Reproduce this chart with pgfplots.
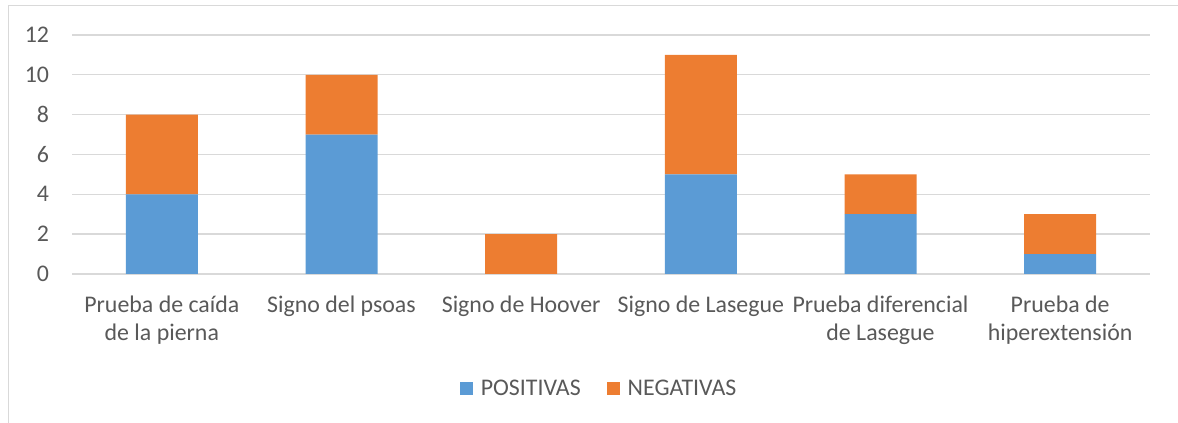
\documentclass[border=0pt]{standalone}
\usepackage{pgfplots}
\pgfplotsset{compat=1.18}
\usepackage{fontspec}
\setmainfont{Carlito}
\definecolor{cblue}{HTML}{5B9BD5}
\definecolor{corange}{HTML}{ED7D31}
\definecolor{cgrid}{HTML}{D9D9D9}
\definecolor{ctext}{HTML}{595959}
\begin{document}
\begin{tikzpicture}
\useasboundingbox (0,0) rectangle (883.5pt,317.25pt);
\draw[cgrid, line width=1pt] (6.2pt,0) -- (6.2pt,313pt) -- (883.5pt,313pt);
\begin{axis}[
  at={(54pt,111.75pt)}, anchor=south west,
  scale only axis, width=808.5pt, height=179.25pt,
  ybar stacked, bar width=54pt,
  xmin=-0.5, xmax=5.5, ymin=0, ymax=12,
  ytick={0,2,...,12},
  xtick=data,
  xticklabels={{Prueba de caída\\de la pierna},{Signo del psoas},{Signo de Hoover},{Signo de Lasegue},{Prueba diferencial\\de Lasegue},{Prueba de\\hiperextensión}},
  axis line style={draw=none},
  major tick length=0pt,
  ymajorgrids, grid style={cgrid, line width=1pt},
  /pgf/number format/assume math mode=true,
  tick label style={font=\fontsize{17.9}{21.3}\selectfont, text=ctext},
  yticklabel style={anchor=east, inner sep=0pt, xshift=-17pt},
  xticklabel style={anchor=north, align=center, inner sep=0pt, yshift=-16pt},
  legend columns=2,
  legend style={at={(0.488,-0.48)}, anchor=center, draw=none, fill=none,
    font=\fontsize{17.9}{20}\selectfont, text=ctext,
    /tikz/every even column/.append style={column sep=19.5pt},
    nodes={inner sep=0pt, anchor=west}},
  legend image code/.code={\fill[#1, draw=none] (0pt,-4.875pt) rectangle (9.75pt,4.875pt);},
  /tikz/every odd column/.append style={column sep=6pt},
]
\addplot[fill=cblue, draw=none] coordinates {(0,4) (1,7) (2,0) (3,5) (4,3) (5,1)};
\addplot[fill=corange, draw=none] coordinates {(0,4) (1,3) (2,2) (3,6) (4,2) (5,2)};
\legend{POSITIVAS, NEGATIVAS}
\end{axis}
\end{tikzpicture}
\end{document}
